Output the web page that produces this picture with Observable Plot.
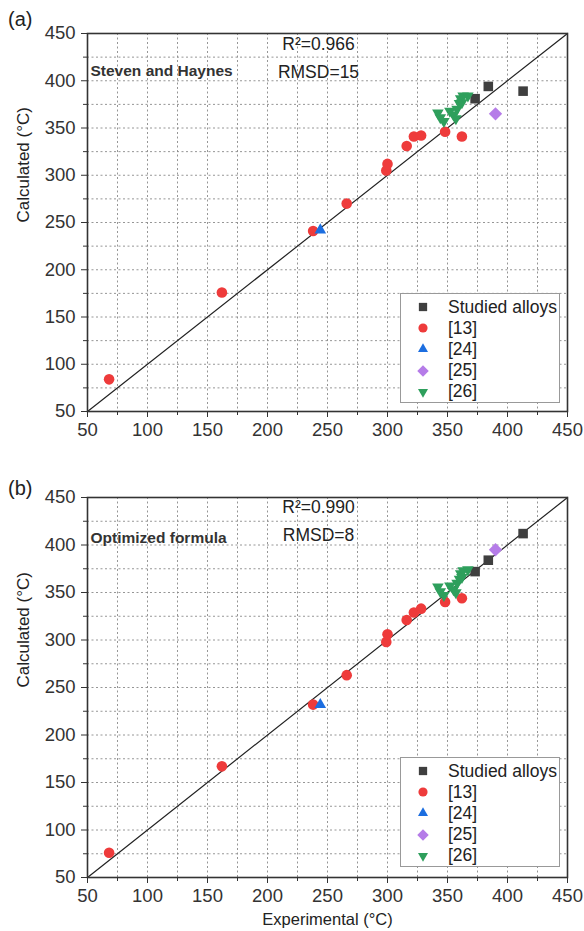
<!DOCTYPE html>
<html><head><meta charset="utf-8">
<script src="https://cdn.jsdelivr.net/npm/d3@7"></script>
<script src="https://cdn.jsdelivr.net/npm/@observablehq/plot@0.6"></script>
<style>
body{margin:0;background:#fff;font-family:"Liberation Sans",Arial,sans-serif;}
.panel{position:relative;width:584px;}
.plabel{position:absolute;left:8px;font-size:20px;color:#222;line-height:1;}
.legend{position:absolute;border:1px solid #999;background:#fff;font-size:17.5px;color:#222;box-sizing:border-box;}
.legend .row{position:absolute;left:0;height:20px;display:flex;align-items:center;}
.legend svg{position:absolute;left:13px;}
.legend span{position:absolute;left:47px;white-space:nowrap;}
</style></head><body><div id="root"></div>
<script>
// ---------- data ----------
const seriesNames = ["Studied alloys", "[13]", "[24]", "[25]", "[26]"];
const seriesColors = ["#3f3f3f", "#ee3b3b", "#1c6ee0", "#b57ce8", "#2e9f5c"];
const seriesSymbols = ["square", "circle", "triangle", "diamond2", "triangle"];
const seriesRotate = [0, 0, 0, 0, 180];
const seriesR = [5.4, 5.3, 4.3, 6, 4.3];

const majorTicks = [50, 100, 150, 200, 250, 300, 350, 400, 450];
const minorTicks = [75, 125, 175, 225, 275, 325, 375, 425];
const axisDomain = [50, 450];

// Experimental values (shared by both panels)
const expStudied = [373, 384, 413];
const exp13 = [68, 162, 238, 266, 299, 300, 316, 322, 328, 348, 362];
const exp24 = [244];
const exp25 = [390];
const exp26 = [342, 344, 347, 352, 355, 357, 358, 360, 361, 362, 363, 367];

// (a) Steven and Haynes
const aStudied = [381, 394, 389];
const a13 = [84, 176, 241, 270, 305, 312, 331, 341, 342, 346, 341];
const a24 = [242];
const a25 = [365];
const a26 = [366, 361, 357, 368, 364, 360, 370, 376, 381, 377, 384, 384];

// (b) Optimized formula
const bStudied = [372, 384, 412];
const b13 = [76, 167, 232, 263, 298, 306, 321, 329, 333, 340, 344];
const b24 = [232];
const b25 = [395];
const b26 = [356, 351, 347, 357, 353, 350, 360, 364, 370, 366, 373, 374];

const panelA = {tag: "(a)", method: "Steven and Haynes", r2: "R²=0.966", rmsd: "RMSD=15",
  calc: [aStudied, a13, a24, a25, a26]};
const panelB = {tag: "(b)", method: "Optimized formula", r2: "R²=0.990", rmsd: "RMSD=8",
  calc: [bStudied, b13, b24, b25, b26]};
const expAll = [expStudied, exp13, exp24, exp25, exp26];

const font = '"Liberation Sans", Arial, sans-serif';

function makePanel(p, cfg) {
  const rows = [];
  expAll.forEach((xs, i) => xs.forEach((x, j) => rows.push({x, y: p.calc[i][j], s: i})));
  const dotMarks = seriesNames.map((name, i) =>
    Plot.dot(rows.filter(d => d.s === i), {x: "x", y: "y", symbol: () => seriesSymbols[i],
      r: seriesR[i], fill: seriesColors[i], stroke: "none", rotate: seriesRotate[i]}));
  const gridTicks = [...majorTicks, ...minorTicks];
  const marks = [
    Plot.gridX(gridTicks, {stroke: "#8a8a8a", strokeOpacity: 1, strokeDasharray: "2,2.5", strokeWidth: 0.9}),
    Plot.gridY(gridTicks, {stroke: "#8a8a8a", strokeOpacity: 1, strokeDasharray: "2,2.5", strokeWidth: 0.9}),
    Plot.line(axisDomain.map(v => ({x: v, y: v})), {x: "x", y: "y", stroke: "#222", strokeWidth: 1.2}),
    ...dotMarks,
    Plot.axisX(majorTicks, {tickSize: 6, tickPadding: 5, fontSize: 18.5, label: null, stroke: "#333", fill: "#333", tickFormat: d => d}),
    Plot.axisX(minorTicks, {tickSize: 4, label: null, stroke: "#333", tickFormat: () => ""}),
    Plot.axisY(majorTicks, {tickSize: 6, tickPadding: 6, fontSize: 18.5, label: null, stroke: "#333", fill: "#333", tickFormat: d => d}),
    Plot.axisY(minorTicks, {tickSize: 4, label: null, stroke: "#333", tickFormat: () => ""}),
    Plot.frame({stroke: "#333", strokeWidth: 1.6}),
    Plot.text([p.r2], {frameAnchor: "top", dx: -9, dy: cfg.r2dy, fontSize: 17.5, fill: "#222", lineAnchor: "middle"}),
    Plot.text([p.rmsd], {frameAnchor: "top", dx: -9, dy: cfg.r2dy + 28, fontSize: 17.5, fill: "#222", lineAnchor: "middle"}),
    Plot.text([p.method], {frameAnchor: "top-left", dx: 3, dy: cfg.mdy, fontSize: 15.5, fontWeight: "bold", fill: "#333", textAnchor: "start", lineAnchor: "middle"}),
    Plot.text(["Calculated (°C)"], {frameAnchor: "left", dx: -64, rotate: -90, fontSize: 17, fill: "#222"})
  ];
  if (cfg.xlabel) marks.push(Plot.text(["Experimental (°C)"], {frameAnchor: "bottom", dx: 0, dy: 42, fontSize: 16.5, fill: "#222", lineAnchor: "middle"}));
  const svg = Plot.plot({
    width: 584, height: cfg.height,
    marginLeft: 87, marginRight: 17, marginTop: cfg.mt, marginBottom: 54,
    x: {domain: axisDomain}, y: {domain: axisDomain},
    style: {fontFamily: font, color: "#333", background: "#fff", overflow: "visible"},
    marks
  });
  const div = document.createElement("div");
  div.className = "panel";
  div.style.height = cfg.height + "px";
  div.appendChild(svg);
  const lab = document.createElement("div");
  lab.className = "plabel";
  lab.style.top = cfg.tagTop + "px";
  lab.textContent = p.tag;
  div.appendChild(lab);
  // legend
  const lg = document.createElement("div");
  lg.className = "legend";
  Object.assign(lg.style, {left: "400px", top: cfg.legTop + "px", width: "160px", height: "110px"});
  const typeMap = {square: d3.symbolSquare, circle: d3.symbolCircle, triangle: d3.symbolTriangle, diamond2: d3.symbolDiamond2};
  seriesNames.forEach((name, i) => {
    const row = document.createElement("div");
    row.className = "row";
    row.style.top = (3 + i * 21.2) + "px";
    row.style.width = "160px";
    const size = Math.PI * seriesR[i] * seriesR[i] * 0.75;
    const path = d3.symbol(typeMap[seriesSymbols[i]], size)();
    row.innerHTML = `<svg width="18" height="20" viewBox="-9 -10 18 20"><path d="${path}" fill="${seriesColors[i]}" transform="rotate(${seriesRotate[i]})"/></svg><span>${name}</span>`;
    lg.appendChild(row);
  });
  div.appendChild(lg);
  return div;
}

const root = document.getElementById("root");
root.appendChild(makePanel(panelA, {height: 465, mt: 33, r2dy: 11, mdy: 38, tagTop: 9, legTop: 293, xlabel: false}));
root.appendChild(makePanel(panelB, {height: 466, mt: 32, r2dy: 10, mdy: 41, tagTop: 13, legTop: 292, xlabel: true}));
</script></body></html>
